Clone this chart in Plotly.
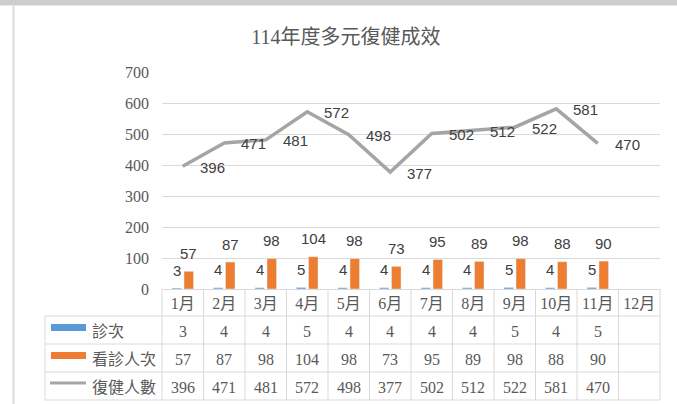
import plotly.graph_objects as go

# ---- data ----
months = ["1月", "2月", "3月", "4月", "5月", "6月", "7月", "8月", "9月", "10月", "11月", "12月"]
visits = [3, 4, 4, 5, 4, 4, 4, 4, 5, 4, 5, None]            # 診次
patients = [57, 87, 98, 104, 98, 73, 95, 89, 98, 88, 90, None]  # 看診人次
rehab = [396, 471, 481, 572, 498, 377, 502, 512, 522, 581, 470, None]  # 復健人數
series_names = ["診次", "看診人次", "復健人數"]
title_text = "114年度多元復健成效"

BLUE = "#5B9BD5"
ORANGE = "#ED7D31"
GRAY = "#A5A5A5"
TXT = "#595959"
GRID = "#D9D9D9"
SERIF = "Liberation Serif, 'Noto Sans CJK TC', serif"
SANS = "Liberation Sans, Arial, sans-serif"

# ---- pixel layout helpers ----
W, H = 677, 404
PL, PR, PT, PB = 162, 660, 72, 289  # plot area in px


def px(xp):
    return (xp - PL) / (PR - PL)


def py(yp):
    return (PB - yp) / (PB - PT)


fig = go.Figure()
fig.add_trace(go.Bar(x=months, y=visits, name=series_names[0], marker_color=BLUE))
fig.add_trace(go.Bar(x=months, y=patients, name=series_names[1], marker_color=ORANGE))
fig.add_trace(go.Scatter(x=months, y=rehab, name=series_names[2], mode="lines",
                         line=dict(color=GRAY, width=3.5)))

annotations = []
# bar data labels
for vals, shift in ((visits, -6), (patients, 6)):
    for m, v in zip(months, vals):
        if v is None:
            continue
        annotations.append(dict(x=m, y=v, xref="x", yref="y", text=str(v), showarrow=False,
                                xshift=shift, yshift=18, yanchor="middle",
                                font=dict(family=SANS, size=15, color="#404040")))
# line data labels
for m, v in zip(months, rehab):
    if v is None:
        continue
    annotations.append(dict(x=m, y=v, xref="x", yref="y", text=str(v), showarrow=False,
                            xanchor="left", xshift=15, yanchor="middle", yshift=-1,
                            font=dict(family=SANS, size=15, color="#404040")))

# data table
row_bounds = [289, 316, 344, 372, 400]
row_centers = [(row_bounds[i] + row_bounds[i + 1]) / 2 for i in range(1, 4)]
for vals, rc in zip((visits, patients, rehab), row_centers):
    for m, v in zip(months, vals):
        if v is None:
            continue
        annotations.append(dict(x=m, y=py(rc + 1), xref="x", yref="paper", text=str(v),
                                showarrow=False, yanchor="middle",
                                font=dict(family=SERIF, size=16, color=TXT)))
for name, rc in zip(series_names, row_centers):
    annotations.append(dict(x=px(90), y=py(rc + 1), xref="paper", yref="paper", text=name,
                            showarrow=False, xanchor="left", yanchor="middle",
                            font=dict(family=SERIF, size=16, color=TXT)))

shapes = []
line_style = dict(color=GRID, width=1)
# horizontal table lines
for yb in row_bounds[1:]:
    shapes.append(dict(type="line", xref="paper", yref="paper", x0=px(45), x1=1,
                       y0=py(yb), y1=py(yb), line=line_style))
# vertical column lines
ncol = len(months)
for k in range(ncol + 1):
    shapes.append(dict(type="line", xref="paper", yref="paper", x0=k / ncol, x1=k / ncol,
                       y0=0, y1=py(400), line=line_style))
shapes.append(dict(type="line", xref="paper", yref="paper", x0=px(45), x1=px(45),
                   y0=py(316), y1=py(400), line=line_style))
# legend keys
shapes.append(dict(type="rect", xref="paper", yref="paper", x0=px(51), x1=px(86),
                   y0=py(331), y1=py(324), fillcolor=BLUE, line=dict(width=0)))
shapes.append(dict(type="rect", xref="paper", yref="paper", x0=px(51), x1=px(86),
                   y0=py(359), y1=py(352), fillcolor=ORANGE, line=dict(width=0)))
shapes.append(dict(type="line", xref="paper", yref="paper", x0=px(50), x1=px(86),
                   y0=py(383), y1=py(383), line=dict(color=GRAY, width=3)))
# outer frame bits (window strip and left border)
shapes.append(dict(type="rect", xref="paper", yref="paper", x0=px(0), x1=px(W),
                   y0=py(5), y1=py(0), fillcolor="#CDCDCD", line=dict(width=0)))
shapes.append(dict(type="line", xref="paper", yref="paper", x0=px(0), x1=px(W),
                   y0=py(5.5), y1=py(5.5), line=dict(color="#E6E6E6", width=1)))
shapes.append(dict(type="line", xref="paper", yref="paper", x0=px(13.5), x1=px(13.5),
                   y0=py(6), y1=py(H), line=dict(color="#DCDCDC", width=2)))

fig.update_layout(
    width=W, height=H,
    margin=dict(l=PL, r=W - PR, t=PT, b=H - PB, autoexpand=False),
    paper_bgcolor="white", plot_bgcolor="white",
    showlegend=False,
    barmode="group", bargap=0.42, bargroupgap=0.21,
    title=dict(text=title_text, x=346 / W, xanchor="center", xref="container",
               y=1 - 37 / H, yanchor="middle", yref="container",
               font=dict(family=SERIF, size=20, color=TXT)),
    xaxis=dict(type="category", range=[-0.5, 11.5], showgrid=False, zeroline=False,
               showline=True, linecolor=GRID, linewidth=1, ticks="",
               tickfont=dict(family=SERIF, size=16, color=TXT), ticklabelstandoff=0,
               fixedrange=True),
    yaxis=dict(range=[0, 700], dtick=100, tick0=0, showgrid=True, gridcolor=GRID,
               gridwidth=1, zeroline=False, showline=False, ticks="",
               tickfont=dict(family=SERIF, size=16, color=TXT), ticklabelstandoff=12,
               fixedrange=True),
    annotations=annotations,
    shapes=shapes,
)

fig.write_html(
    "out.html",
    config={"displayModeBar": False},
    post_script="document.body.style.margin='0';document.body.style.overflow='hidden';",
)
